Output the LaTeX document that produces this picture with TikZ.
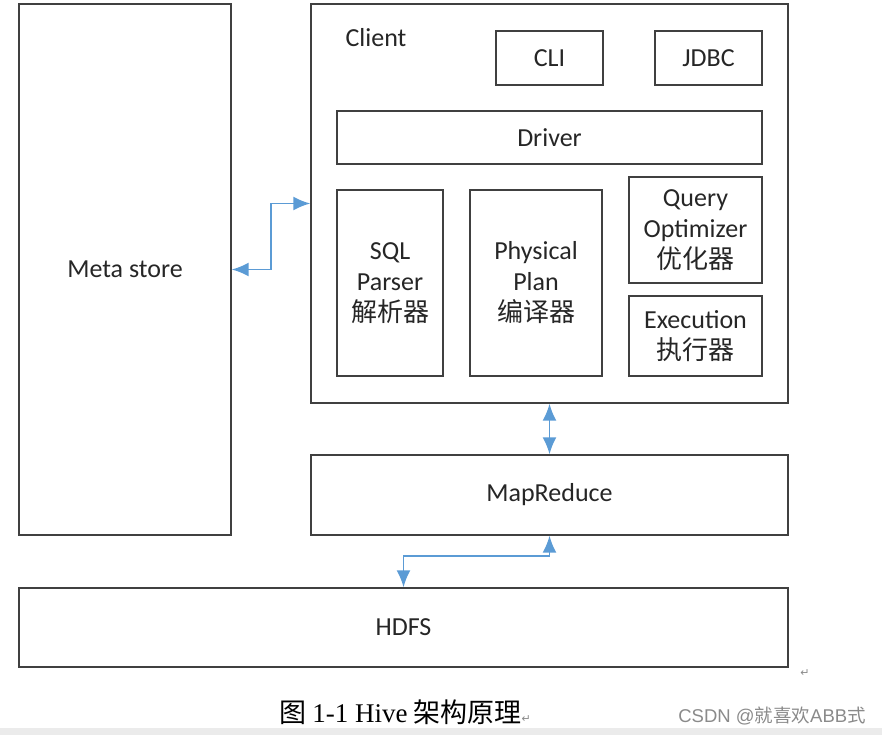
\documentclass[tikz,border=0pt]{standalone}
\usepackage{fontspec}
\setmainfont{Carlito}
\newfontfamily\cjk{Noto Sans CJK SC}
\newfontfamily\capfont{Liberation Serif}
\newfontfamily\wmfont{Liberation Sans}
\newfontfamily\symfont{DejaVu Sans}
\usetikzlibrary{arrows.meta}
\definecolor{boxline}{HTML}{404040}
\definecolor{linkblue}{HTML}{5B9BD5}
\definecolor{wmgray}{HTML}{8A8A8A}

\begin{document}
\begin{tikzpicture}[
    x=1pt, y=-1pt,
    font=\fontsize{26}{31}\selectfont,
    % boxes
    box/.style={rectangle, draw=boxline, line width=1.4pt, inner sep=0pt,
        align=center, text=black!85},
    link/.style={draw=linkblue, line width=1.8pt, <->,
        >={Latex[length=17pt,width=14pt]}},
]
\useasboundingbox (0,0) rectangle (882,735);
\fill[black!8] (0,728) rectangle (882,735);

% =========================================================
% outer blocks
% =========================================================
\node[box, minimum width=212pt, minimum height=531pt] (meta)   at (125,269.5)   {Meta store};
\node[box, minimum width=477pt, minimum height=399pt] (client) at (549.5,203.5) {};
\node[box, minimum width=477pt, minimum height=80pt]  (mapred) at (549.5,495)   {MapReduce};
\node[box, minimum width=769pt, minimum height=79pt]  (hdfs)   at (403.5,627.5) {HDFS};

% =========================================================
% inside the client
% =========================================================
\node[anchor=west, text=black!85] (clientlbl) at (342,38) {Client};
\node[box, minimum width=107pt, minimum height=54pt]  (cli)    at (549.5,58)    {CLI};
\node[box, minimum width=107pt, minimum height=54pt]  (jdbc)   at (708.5,58)    {JDBC};
\node[box, minimum width=425pt, minimum height=53pt]  (driver) at (549.5,137.5) {Driver};

\node[box, minimum width=106pt, minimum height=186pt] (sqlp)   at (390,283)
    {SQL\\Parser\\{\cjk 解析器}};
\node[box, minimum width=132pt, minimum height=186pt] (phys)   at (536,283)
    {Physical\\Plan\\{\cjk 编译器}};
\node[box, minimum width=133pt, minimum height=106pt] (qopt)   at (695.5,230)
    {Query\\Optimizer\\{\cjk 优化器}};
\node[box, minimum width=133pt, minimum height=80pt]  (exec)   at (695.5,336)
    {Execution\\{\cjk 执行器}};

% =========================================================
% links
% =========================================================
\draw[link] (meta.east) -- ++(39,0) |- (client.west);
\draw[link] (client.south) -- (mapred.north);
\draw[link] (mapred.south) -- ++(0,20) -| (hdfs.north);

% =========================================================
% caption and marks
% =========================================================
\node (caption) at (405,712) {\fontsize{27}{27}\selectfont{\cjk 图} {\capfont 1-1 Hive} {\cjk 架构原理}{\symfont\color{wmgray}\fontsize{11}{11}\selectfont ↵}};
\node[text=wmgray] (retmark) at (805,673) {\symfont\fontsize{11}{11}\selectfont ↵};
\node[text=wmgray] (wmark) at (772,716) {\wmfont\fontsize{18.5}{18.5}\selectfont CSDN @{\cjk 就喜欢}ABB{\cjk 式}};

\end{tikzpicture}
\end{document}
